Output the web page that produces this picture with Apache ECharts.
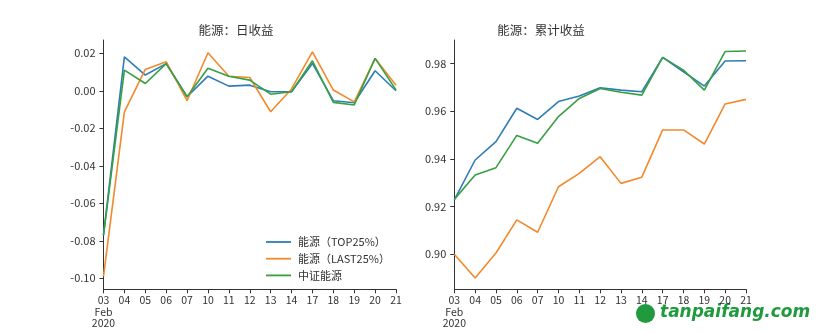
<!DOCTYPE html>
<html>
<head>
<meta charset="utf-8">
<script src="https://cdn.jsdelivr.net/npm/echarts@6/dist/echarts.min.js"></script>
<style>
html,body{margin:0;padding:0;background:#fff;}
#main{width:830px;height:332px;}
</style>
</head>
<body>
<div id="main"></div>
<script>
// ---- data ----
var categories = ['03','04','05','06','07','10','11','12','13','14','17','18','19','20','21'];
var seriesNames = ['能源（TOP25%）', '能源（LAST25%）', '中证能源'];
var titles = ['能源：日收益', '能源：累计收益'];

var dailyTop25  = [-0.077, 0.0181, 0.0084, 0.0145, -0.0032, 0.0078, 0.0025, 0.0030, -0.0005, -0.0005, 0.0146, -0.0053, -0.0064, 0.0107, 0.0000];
var dailyLast25 = [-0.099, -0.0112, 0.0114, 0.0155, -0.0053, 0.0203, 0.0078, 0.0071, -0.0112, 0.0010, 0.0208, 0.0004, -0.0059, 0.0173, 0.0030];
var dailyIndex  = [-0.077, 0.0110, 0.0039, 0.0145, -0.0032, 0.0120, 0.0078, 0.0057, -0.0018, -0.0005, 0.0160, -0.0062, -0.0076, 0.0173, 0.0005];

var cumTop25  = [0.9228, 0.9395, 0.9472, 0.9612, 0.9565, 0.9640, 0.9663, 0.9698, 0.9688, 0.9681, 0.9825, 0.9765, 0.9705, 0.9810, 0.9811];
var cumLast25 = [0.9000, 0.8900, 0.9005, 0.9144, 0.9092, 0.9283, 0.9339, 0.9409, 0.9297, 0.9323, 0.9521, 0.9521, 0.9462, 0.9630, 0.9649];
var cumIndex  = [0.9230, 0.9332, 0.9363, 0.9498, 0.9465, 0.9577, 0.9653, 0.9695, 0.9679, 0.9667, 0.9825, 0.9772, 0.9688, 0.9850, 0.9852];

var yTicksLeft  = [-0.10, -0.08, -0.06, -0.04, -0.02, 0.00, 0.02];
var yTicksRight = [0.90, 0.92, 0.94, 0.96, 0.98];
var firstLabelExtra = 'Feb\n2020';

// ---- chart ----
var colors = ['#2f7cb6', '#f28a2c', '#36a043'];
var axisColor = '#333';
var fontFam = '"Noto Sans CJK SC", "DejaVu Sans", sans-serif';

function xAxisDef(gridIndex) {
  return {
    type: 'category', gridIndex: gridIndex, data: categories, boundaryGap: false,
    axisLine: {onZero: false, lineStyle: {color: axisColor, width: 1}},
    axisTick: {show: true, alignWithLabel: true, length: 4, lineStyle: {color: axisColor}},
    axisLabel: {
      interval: 0, color: '#333', fontSize: 10.5, fontFamily: fontFam, margin: 5, lineHeight: 11.5,
      formatter: function (v, i) { return i === 0 ? v + '\n' + firstLabelExtra : v; }
    },
    splitLine: {show: false}
  };
}
function yAxisDef(gridIndex, min, max, ticks) {
  return {
    type: 'value', gridIndex: gridIndex, min: min, max: max,
    axisLine: {show: true, onZero: false, lineStyle: {color: axisColor, width: 1}},
    axisTick: {show: true, length: 4, customValues: ticks, lineStyle: {color: axisColor}},
    axisLabel: {
      color: '#333', fontSize: 11, fontFamily: fontFam, margin: 8, customValues: ticks,
      formatter: function (v) { return v.toFixed(2); }
    },
    splitLine: {show: false}
  };
}
function lineSeries(name, data, idx, color) {
  return {
    name: name, type: 'line', data: data, xAxisIndex: idx, yAxisIndex: idx,
    symbol: 'none', smooth: false, color: color,
    lineStyle: {width: 1.6, color: color}, z: 2, animation: false
  };
}

var chart = echarts.init(document.getElementById('main'), null, {renderer: 'canvas'});
chart.setOption({
  backgroundColor: '#fff',
  animation: false,
  title: [
    {text: titles[0], left: 231, top: 19, textAlign: 'center',
     textStyle: {fontSize: 12.5, fontWeight: 'normal', color: '#333', fontFamily: fontFam}},
    {text: titles[1], left: 536, top: 19, textAlign: 'center',
     textStyle: {fontSize: 12.5, fontWeight: 'normal', color: '#333', fontFamily: fontFam}}
  ],
  legend: {
    data: seriesNames, orient: 'vertical', left: 261, top: 230,
    icon: 'rect', itemWidth: 25, itemHeight: 1.8, itemGap: 2.7,
    textStyle: {fontSize: 11, color: '#333', fontFamily: fontFam, lineHeight: 14, padding: [0, 0, 0, 2]}
  },
  grid: [
    {left: 103.5, right: 434, top: 40, bottom: 42.7, containLabel: false},
    {left: 454.3, right: 84, top: 40, bottom: 42.7, containLabel: false}
  ],
  xAxis: [xAxisDef(0), xAxisDef(1)],
  yAxis: [
    yAxisDef(0, -0.1059, 0.0271, yTicksLeft),
    yAxisDef(1, 0.8853, 0.9898, yTicksRight)
  ],
  series: [
    lineSeries(seriesNames[0], dailyTop25, 0, colors[0]),
    lineSeries(seriesNames[1], dailyLast25, 0, colors[1]),
    lineSeries(seriesNames[2], dailyIndex, 0, colors[2]),
    lineSeries(seriesNames[0], cumTop25, 1, colors[0]),
    lineSeries(seriesNames[1], cumLast25, 1, colors[1]),
    lineSeries(seriesNames[2], cumIndex, 1, colors[2])
  ],
  graphic: [
    {type: 'circle', left: 636, top: 304, shape: {r: 9.5}, style: {fill: '#1f9a3c'}},
    {type: 'text', left: 660, top: 304,
     style: {text: 'tanpaifang.com', fill: '#1f9a3c', font: 'italic bold 17px "DejaVu Sans", sans-serif'}}
  ]
});
</script>
</body>
</html>
